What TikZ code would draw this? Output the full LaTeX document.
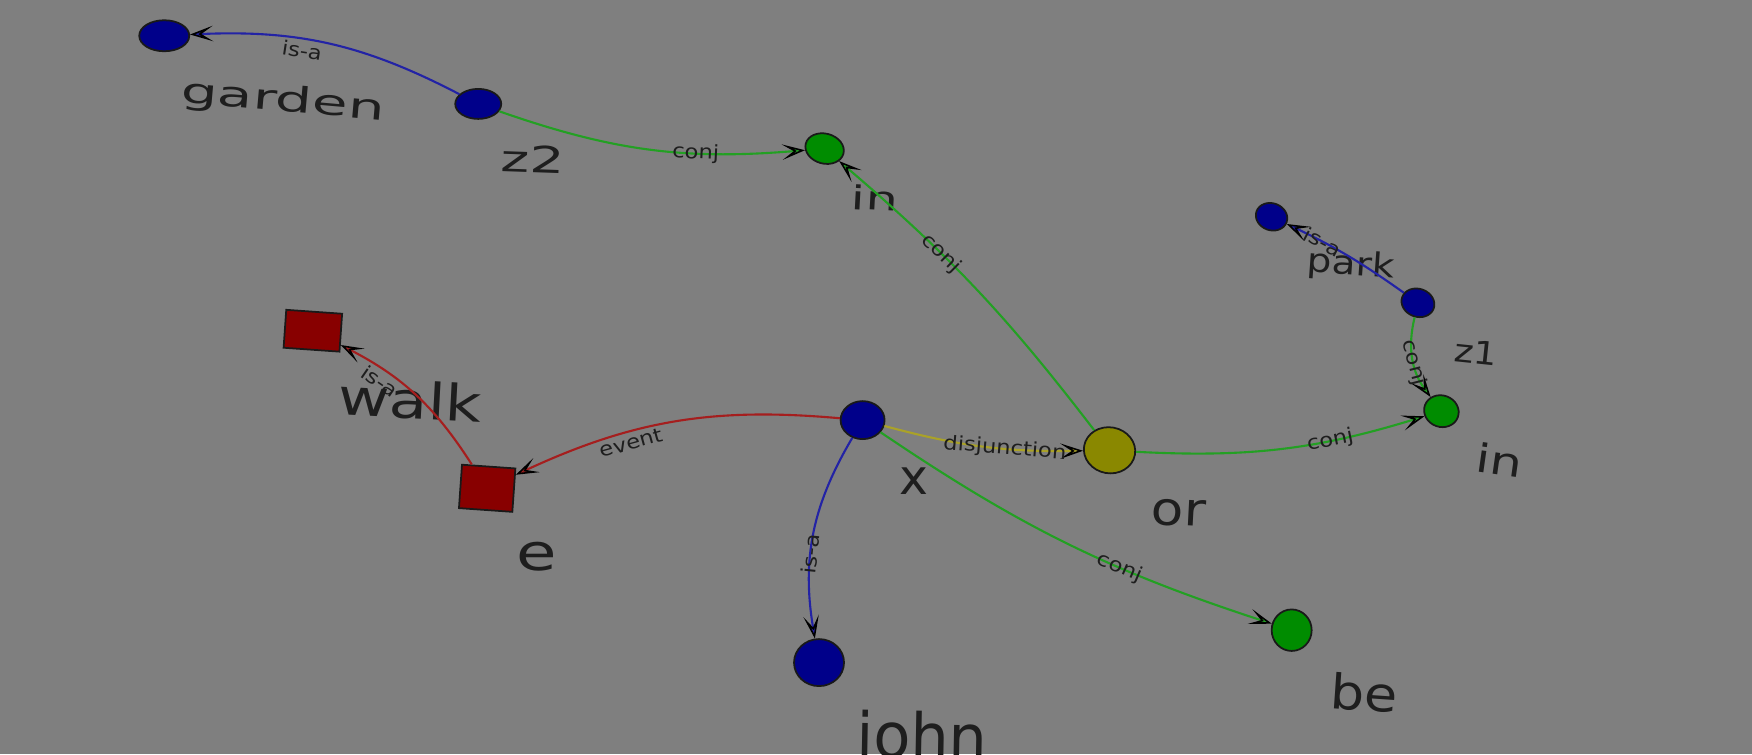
\documentclass[tikz,border=0pt]{standalone}
\usepackage{fontspec}
\setsansfont{DejaVu Sans}
\newfontfamily\relfont{DejaVu Sans}[FakeStretch=1.15]
\usepackage{graphicx}
\usetikzlibrary{positioning, calc, shapes, arrows.meta}
\definecolor{backdrop}{RGB}{127,127,127}
\definecolor{entityblue}{RGB}{0,0,138}
\definecolor{entitygreen}{RGB}{0,140,0}
\definecolor{entityolive}{RGB}{138,136,0}
\definecolor{eventred}{RGB}{136,0,0}
\definecolor{edgeblue}{RGB}{35,35,165}
\definecolor{edgegreen}{RGB}{35,160,35}
\definecolor{edgered}{RGB}{165,30,30}
\definecolor{edgeyellow}{RGB}{170,162,40}
\definecolor{wordgray}{RGB}{30,30,30}
\newcommand{\wordtext}[3]{\scalebox{#1}[1]{\fontsize{#2}{#2}\selectfont #3}}
\tikzset{entity/.style={ellipse, draw=black!90, line width=0.5pt, inner sep=0pt}}
\tikzset{eventbox/.style={rectangle, draw=black!90, line width=0.5pt, fill=eventred, inner sep=0pt}}
\tikzset{word/.style={text=wordgray, font=\sffamily, inner sep=0pt}}
\tikzset{rel/.style={text=wordgray, font=\relfont\fontsize{5.6}{6}\selectfont, inner sep=0.8pt, sloped}}
\tikzset{link/.style={line width=0.6pt, draw=#1, -{Stealth[length=6.5pt, width=4.4pt, inset=3.3pt, line width=0.45pt, color=black, fill=#1]}}}

\begin{document}
\begin{tikzpicture}[x=0.11173mm, y=-0.11173mm]
          \clip (0,0) rectangle (1568,675);
          \fill[backdrop] (0,0) rectangle (1568,675);

          \node[entity, fill=entityblue, minimum width=5mm, minimum height=3.1mm] (ngarden) at (147,32) {};
          \node[word, rotate=-5] (labelgarden) at ($(ngarden)+(106,59)$) {\wordtext{1.65}{10}{garden}};

          \node[entity, fill=entityblue, minimum width=4.6mm, minimum height=3mm] (nztwo) at (428,93) {};
          \node[word, rotate=-2] (labelztwo) at ($(nztwo)+(49,49)$) {\wordtext{1.5}{10.4}{z2}};

          \node[entity, fill=entitygreen, minimum width=3.9mm, minimum height=3mm, rotate=-15] (nintop) at (738,133) {};
          \node[word, rotate=-3] (labelintop) at ($(nintop)+(45,44)$) {\wordtext{1.55}{9.4}{in}};

          \node[entity, fill=entityblue, minimum width=3.2mm, minimum height=2.7mm, rotate=-20] (npark) at (1138,194) {};
          \node[word, rotate=-4] (labelpark) at ($(npark)+(71,44)$) {\wordtext{1.18}{9.4}{park}};

          \node[entity, fill=entityblue, minimum width=3.35mm, minimum height=2.8mm, rotate=-20] (nzone) at (1269,271) {};
          \node[word, rotate=-6] (labelzone) at ($(nzone)+(52,44)$) {\wordtext{1.17}{9.1}{z1}};

          \node[entity, fill=entitygreen, minimum width=3.5mm, minimum height=3.15mm, rotate=-20] (ninright) at (1290,368) {};
          \node[word, rotate=-8] (labelinright) at ($(ninright)+(52,44)$) {\wordtext{1.3}{11.2}{in}};

          \node[eventbox, minimum width=5.6mm, minimum height=3.8mm, rotate=-4] (nwalk) at (280,296) {};
          \node[word, rotate=-3] (labelwalk) at ($(nwalk)+(87,62)$) {\wordtext{1.25}{14.3}{walk}};

          \node[eventbox, minimum width=5.35mm, minimum height=4.35mm, rotate=-4] (ne) at (436,437) {};
          \node[word] (labele) at ($(ne)+(44,61)$) {\wordtext{1.3}{14.4}{e}};

          \node[entity, fill=entityblue, minimum width=4.4mm, minimum height=3.8mm] (nx) at (772,376) {};
          \node[word] (labelx) at ($(nx)+(46,55)$) {\wordtext{1}{13.9}{x}};

          \node[entity, fill=entityolive, minimum width=5.15mm, minimum height=4.6mm, rotate=-10] (nor) at (993,403) {};
          \node[word, rotate=-3] (labelor) at ($(nor)+(62,56)$) {\wordtext{1.15}{13.2}{or}};

          \node[entity, fill=entityblue, minimum width=5mm, minimum height=4.7mm] (njohn) at (733,593) {};
          \node[word, anchor=base, rotate=-1] (labeljohn) at ($(njohn)+(92,86)$) {\wordtext{0.97}{17.8}{john}};

          \node[entity, fill=entitygreen, minimum width=4mm, minimum height=4.15mm] (nbe) at (1156,564) {};
          \node[word, rotate=-4] (labelbe) at ($(nbe)+(65,56)$) {\wordtext{1.12}{13.7}{be}};

          \draw[link=edgeblue] (nztwo) to[bend right=15] node[rel, pos=0.6, below] {is-a} (ngarden);
          \draw[link=edgegreen] (nztwo) to[bend right=12] node[rel, pos=0.66] {conj} (nintop);
          \draw[link=edgegreen] (nor) to[bend right=6] node[rel, pos=0.64] {conj} (nintop);
          \draw[link=edgeblue] (nzone) to[bend right=5] node[rel, pos=0.72] {is-a} (npark);
          \draw[link=edgegreen] (nzone) to[bend right=25] node[rel, pos=0.55] {conj} (ninright);
          \draw[link=edgegreen] (nor) to[bend right=10] node[rel, pos=0.68] {conj} (ninright);
          \draw[link=edgered] (ne) to[bend right=15] node[rel, pos=0.72, below] {is-a} (nwalk);
          \draw[link=edgered] (nx) to[bend right=15] node[rel, pos=0.65, below] {event} (ne);
          \draw[link=edgeyellow] (nx) to[bend right=8] node[rel, pos=0.62] {disjunction} (nor);
          \draw[link=edgeblue] (nx) to[bend right=20] node[rel, pos=0.6] {is-a} (njohn);
          \draw[link=edgegreen] (nx) to[bend right=8] node[rel, pos=0.64] {conj} (nbe);
        \end{tikzpicture}
\end{document}
